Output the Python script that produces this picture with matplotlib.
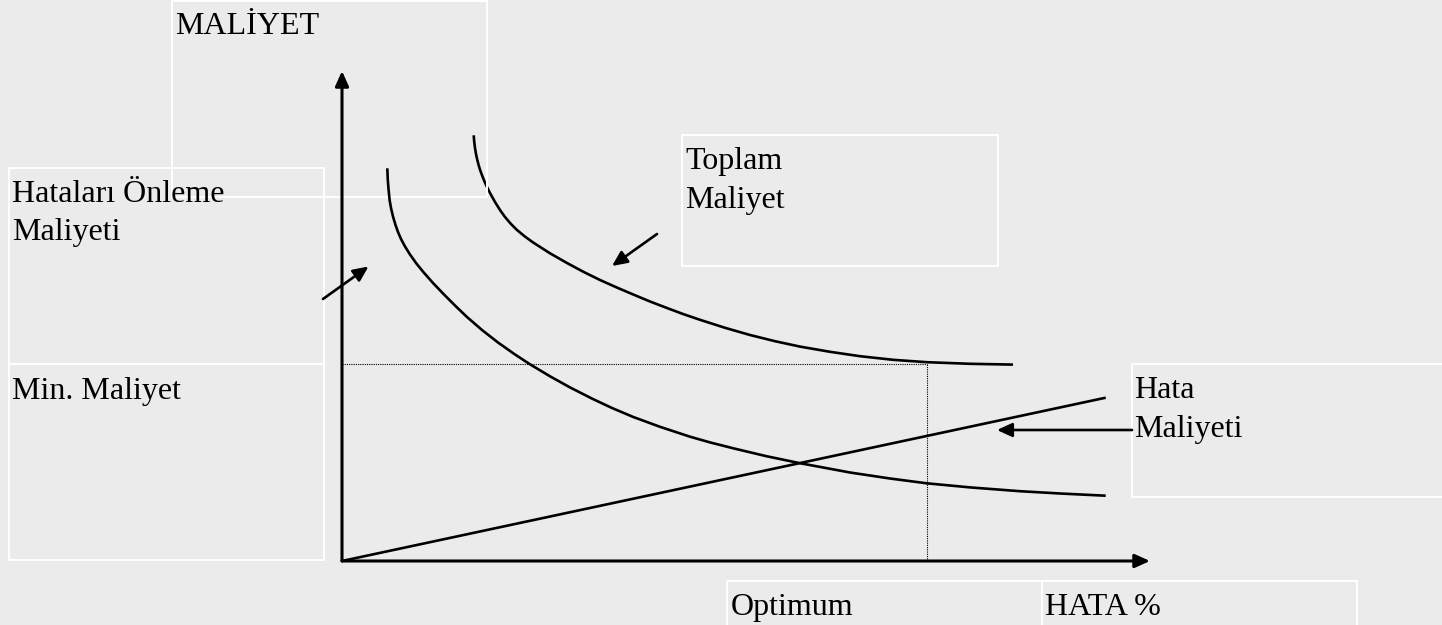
import matplotlib
matplotlib.use("Agg")
import matplotlib.pyplot as plt
from matplotlib.patches import Rectangle

# ---------------- data (HATA % on x, MALİYET on y, arbitrary units) ----------------
hata_x = [0.0, 763.7]                    # Hata Maliyeti (error cost) - straight line
hata_y = [0.0, 163.3]

# Hataları Önleme Maliyeti (prevention cost)
onleme_x = [45.3, 45.8, 46.6, 47.6, 49, 51, 53.5, 56, 59, 63, 68, 74, 81.3, 91, 102,
            114, 125, 140, 156, 172, 188, 208, 228, 250, 270, 291.3, 318, 348, 368,
            391.3, 424, 458, 508, 548, 584.7, 628, 678, 718, 763.7]
onleme_y = [392.7, 381, 371, 361, 353, 344.5, 336, 329, 322, 314.5, 306.5, 298, 289,
            278, 266.5, 254.5, 244, 231, 218.5, 207.2, 196.7, 184.7, 173.6, 162.4, 153,
            144, 134.2, 124.3, 118.6, 112.7, 104.9, 97.8, 88.5, 82.5, 77.7, 73.6, 69.8,
            67.5, 65.3]

# Toplam Maliyet (total cost)
toplam_x = [131.7, 132.2, 133, 134, 135.2, 136.6, 138.3, 140.3, 142.5, 145, 148, 153,
            158, 163, 169, 175, 183, 191, 208, 225, 241, 258, 275, 291, 308, 325, 341,
            358, 383, 408, 433, 458, 488, 518, 551, 585, 628, 671]
toplam_y = [425.7, 419.5, 413, 407, 401.5, 396, 390.5, 385, 379.5, 374, 368, 359, 351,
            344, 337, 331, 324.4, 318.6, 307.7, 298, 289.4, 281, 273.4, 266.6, 259.5,
            253, 247, 241.2, 233.2, 226, 219.8, 214.4, 209.2, 204.8, 201.2, 198.8,
            197.2, 196.4]

optimum_x = 584.7       # optimum error rate
min_maliyet_y = 196.7   # minimum total cost
axis_x_max = 808
axis_y_max = 490

labels = {
    "y_axis": "MALİYET",
    "x_axis": "HATA %",
    "onleme": ["Hataları Önleme", "Maliyeti"],
    "toplam": ["Toplam", "Maliyet"],
    "hata": ["Hata", "Maliyeti"],
    "min": "Min. Maliyet",
    "optimum": "Optimum",
}

# ---------------- figure ----------------
W, H = 1442, 625
DPI = 100
BG = "#ebebeb"
FONT = "Liberation Serif"
FS = 23.0

fig = plt.figure(figsize=(W / DPI, H / DPI), dpi=DPI, facecolor=BG)

# layout layer in pixel coordinates (boxes, labels, pointer arrows)
lay = fig.add_axes([0, 0, 1, 1])
lay.set_xlim(0, W)
lay.set_ylim(H, 0)
lay.axis("off")
lay.set_zorder(1)

# chart axes: origin at pixel (342, 561)
x0, x1, y0, y1 = 342, 1150, 561, 71
ax = fig.add_axes([x0 / W, (H - y0) / H, (x1 - x0) / W, (y0 - y1) / H])
ax.set_xlim(0, axis_x_max)
ax.set_ylim(0, axis_y_max)
ax.axis("off")
ax.patch.set_alpha(0)
ax.set_zorder(2)

# text boxes (white outlines)
boxes = [
    (172, 1, 315, 196),     # MALİYET
    (9, 168, 315, 196),     # Hataları Önleme Maliyeti
    (9, 364, 315, 196),     # Min. Maliyet
    (682, 135, 316, 131),   # Toplam Maliyet
    (1132, 364, 315, 133),  # Hata Maliyeti
    (727, 581, 315, 120),   # Optimum
    (1042, 581, 315, 120),  # HATA %
]
for bx, by, bw, bh in boxes:
    lay.add_patch(Rectangle((bx, by), bw, bh, fill=False, edgecolor="white",
                            lw=1.4, zorder=1))

# dotted guide lines
ax.plot([0, optimum_x], [min_maliyet_y, min_maliyet_y], color="black",
        lw=0.8, linestyle=(0, (1, 1)), clip_on=False, zorder=2)
ax.plot([optimum_x, optimum_x], [0, min_maliyet_y], color="black",
        lw=0.8, linestyle=(0, (1, 1)), clip_on=False, zorder=2)

# curves
for xs, ys in [(onleme_x, onleme_y), (toplam_x, toplam_y), (hata_x, hata_y)]:
    ax.plot(xs, ys, color="black", lw=1.9, clip_on=False,
            solid_capstyle="butt", solid_joinstyle="round", zorder=3)

# right edge of the MALİYET text box lies over the total-cost curve (small gap)
ax.plot([487, 487], [1, 197], transform=lay.transData, color="white", lw=1.4,
        clip_on=False, zorder=3.5)

# axes with arrow heads
axis_style = dict(arrowstyle="-|>,head_length=0.6,head_width=0.27", color="black",
                  lw=2.2, shrinkA=0, shrinkB=0, mutation_scale=15)
ax.annotate("", xy=(axis_x_max, 0), xytext=(0, 0), arrowprops=axis_style,
            annotation_clip=False, zorder=4)
ax.annotate("", xy=(0, axis_y_max), xytext=(0, 0), arrowprops=axis_style,
            annotation_clip=False, zorder=4)

# pointer arrows (pixel coords)
ptr_style = dict(arrowstyle="-|>,head_length=0.65,head_width=0.3", color="black",
                 lw=1.9, shrinkA=0, shrinkB=0, mutation_scale=14)
lay.annotate("", xy=(368.5, 266.5), xytext=(323, 299), arrowprops=ptr_style, zorder=6)
lay.annotate("", xy=(612, 266), xytext=(657, 234), arrowprops=ptr_style, zorder=6)
lay.annotate("", xy=(997, 430), xytext=(1132, 430), arrowprops=ptr_style, zorder=6)

# labels (left x, baseline y in pixels)
def label(x, y, s):
    lay.text(x, y, s, fontsize=FS, family=FONT, color="black",
             ha="left", va="baseline", zorder=7)

label(175, 34.5, labels["y_axis"])
label(12, 201.5, labels["onleme"][0])
label(12, 240, labels["onleme"][1])
label(12, 399, labels["min"])
label(685.5, 169, labels["toplam"][0])
label(685.5, 208, labels["toplam"][1])
label(1134, 398.5, labels["hata"][0])
label(1134, 437, labels["hata"][1])
label(731, 615, labels["optimum"])
label(1045, 615, labels["x_axis"])

fig.savefig("out.png", dpi=DPI, facecolor=BG)
